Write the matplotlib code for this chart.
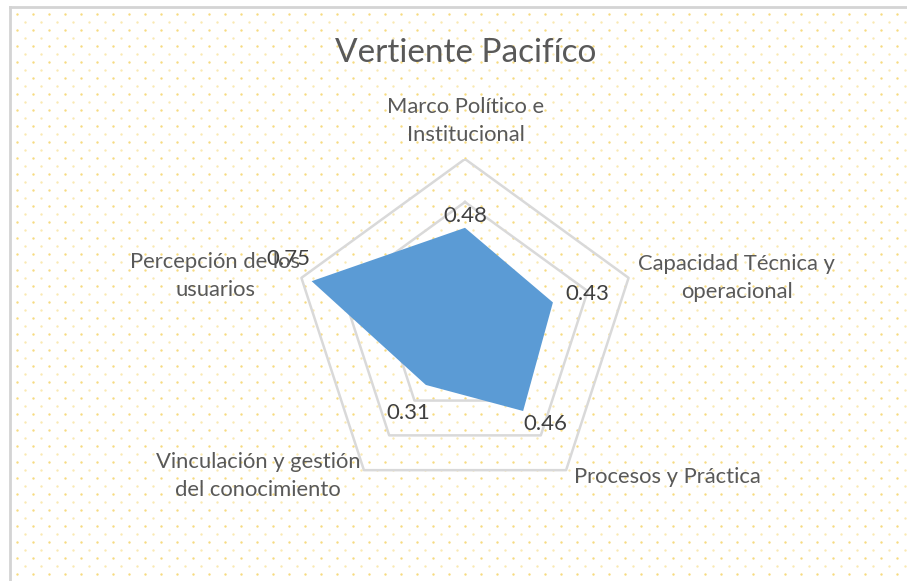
import numpy as np
import matplotlib
matplotlib.use("Agg")
import matplotlib.pyplot as plt
from matplotlib.lines import Line2D

plt.rcParams['font.family'] = ['Lato', 'DejaVu Sans']

# data
categories = ["Marco Político e\nInstitucional",
              "Capacidad Técnica y\noperacional",
              "Procesos y Práctica",
              "Vinculación y gestión\ndel conocimiento",
              "Percepción de los\nusuarios"]
values = [0.48, 0.43, 0.46, 0.31, 0.75]
value_labels = ["0.48", "0.43", "0.46", "0.31", "0.75"]
grid_levels = [0.2, 0.4, 0.6, 0.8]
title = "Vertiente Pacifíco"

# label offsets (pixels)
val_offsets = [(0, 12), (34, 8), (22, -13), (-18, -28), (-23, 22)]
cat_offsets = [(1, 38), (108, 0), (101, -7), (-106, -6), (-86, 2)]

text_color = '#595959'
grid_color = '#d9d9d9'
fill_color = '#5b9bd5'

W, H = 907, 581
fig = plt.figure(figsize=(W / 100, H / 100), dpi=100)
fig.patch.set_facecolor('white')

# dotted background
bg = fig.add_axes([0, 0, 1, 1])
bg.set_xlim(0, W)
bg.set_ylim(H, 0)
bg.axis('off')
for k, yy in enumerate(np.arange(14, H, 8)):
    xs = np.arange(17 + (8 if k % 2 else 0), W, 16)
    bg.scatter(xs, np.full(len(xs), yy), s=3, color='#f5cf55',
               alpha=0.75 if k % 2 == 0 else 0.45, linewidths=0)

# chart border (top and left only visible)
fig.add_artist(Line2D([10 / W, 1], [1 - 7 / H, 1 - 7 / H], color='#d4d4d4', lw=2))
fig.add_artist(Line2D([10 / W, 10 / W], [0, 1 - 7 / H], color='#d4d4d4', lw=2))

# radar axes (cartesian, equal scale)
cx, cy, R = 465, 331, 172
ax = fig.add_axes([(cx - R) / W, (H - cy - R) / H, 2 * R / W, 2 * R / H])
ax.set_xlim(-0.8, 0.8)
ax.set_ylim(-0.8, 0.8)
ax.axis('off')
ax.patch.set_alpha(0)

n = len(categories)
ang = np.pi / 2 - 2 * np.pi * np.arange(n) / n
ang_c = np.append(ang, ang[0])

for lv in grid_levels:
    ax.plot(lv * np.cos(ang_c), lv * np.sin(ang_c), color=grid_color, lw=1.8, zorder=1)

vals = np.array(values)
vx = vals * np.cos(ang)
vy = vals * np.sin(ang)
ax.fill(vx, vy, color=fill_color, lw=0, zorder=3)

for i in range(n):
    ax.annotate(value_labels[i], (vx[i], vy[i]), xytext=val_offsets[i],
                textcoords='offset pixels', ha='center', va='center',
                fontsize=16, color='#404040', zorder=5)
    ox, oy = 0.8 * np.cos(ang[i]), 0.8 * np.sin(ang[i])
    ax.annotate(categories[i], (ox, oy), xytext=cat_offsets[i],
                textcoords='offset pixels', ha='center', va='center',
                fontsize=15.8, color=text_color, linespacing=1.5, zorder=5)

fig.text(466 / W, 1 - 53 / H, title, ha='center', va='center',
         fontsize=24, color=text_color)

plt.savefig('out.png', dpi=100)
